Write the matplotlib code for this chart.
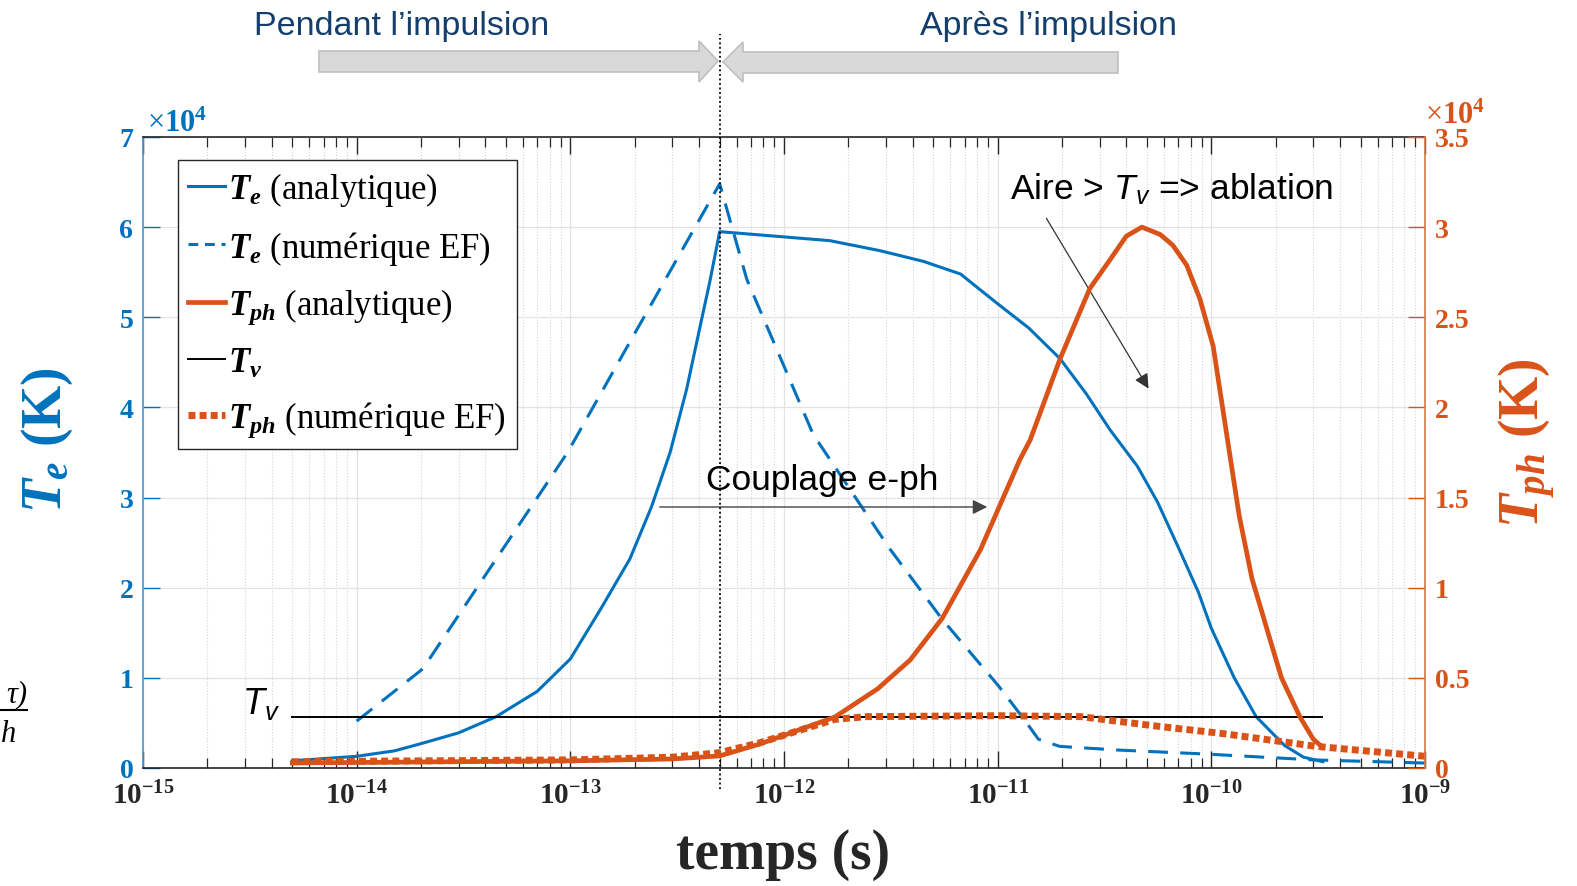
import numpy as np
import matplotlib
matplotlib.use("Agg")
import matplotlib.pyplot as plt
from matplotlib.ticker import LogLocator, NullFormatter
from matplotlib.patches import Polygon

plt.rcParams['mathtext.fontset'] = 'custom'
plt.rcParams['mathtext.rm'] = 'Liberation Serif'
plt.rcParams['mathtext.it'] = 'Liberation Serif:italic:bold'
plt.rcParams['mathtext.bf'] = 'Liberation Serif:bold'
plt.rcParams['mathtext.sf'] = 'Liberation Sans:italic'

# données (temps en s, températures en K)
t_te_ana = [5e-15, 1e-14, 1.5e-14, 2e-14, 3e-14, 4.5e-14, 7e-14, 1e-13, 1.4e-13, 1.9e-13,
            2.4e-13, 2.93e-13, 3.5e-13, 4.05e-13, 4.5e-13, 5e-13,
            1.64e-12, 2.8e-12, 4.5e-12, 6.7e-12, 1e-11, 1.4e-11, 1.96e-11, 2.6e-11,
            3.36e-11, 4.5e-11, 5.6e-11, 7e-11, 8.7e-11, 1e-10, 1.28e-10, 1.62e-10,
            2.2e-10, 2.7e-10, 3.33e-10]
te_ana = [800, 1300, 1900, 2700, 3900, 5700, 8500, 12100, 17800, 23200,
          29000, 35000, 42000, 49000, 54000, 59500,
          58500, 57400, 56200, 54800, 51500, 48800, 45400, 41500,
          37500, 33500, 29500, 24500, 19500, 15500, 10000, 5700,
          2500, 1200, 700]

t_te_num = [1e-14, 2.04e-14, 4.5e-14, 9.7e-14, 2e-13, 5e-13, 6.7e-13, 1.37e-12,
            3.13e-12, 5.5e-12, 1.01e-11, 1.33e-11, 1.55e-11, 1.95e-11, 3.6e-11,
            9.4e-11, 3e-10, 1e-9]
te_num = [5200, 11000, 23200, 35000, 48200, 64800, 54200, 37000,
          24300, 16500, 9100, 5400, 3200, 2400, 2000,
          1550, 900, 550]

t_tph_ana = [5e-15, 1e-13, 3e-13, 5e-13, 7.7e-13, 1.73e-12, 2.75e-12, 3.9e-12,
             5.5e-12, 8.3e-12, 1.27e-11, 1.42e-11, 1.96e-11, 2.7e-11, 3.36e-11, 4e-11,
             4.73e-11, 5.75e-11, 6.6e-11, 7.66e-11, 8.85e-11, 1.02e-10, 1.18e-10,
             1.35e-10, 1.55e-10, 1.88e-10, 2.13e-10, 2.6e-10, 3e-10, 3.3e-10]
tph_ana = [280, 400, 500, 670, 1330, 2830, 4400, 6000,
           8300, 12100, 17100, 18200, 22700, 26600, 28200, 29500,
           30000, 29600, 29000, 27900, 26000, 23400, 18500,
           14000, 10500, 7150, 5000, 2830, 1600, 1170]

t_tph_num = [5e-15, 1e-13, 3e-13, 5e-13, 7.7e-13, 1.73e-12, 2.45e-12, 1e-11,
             2.45e-11, 5.3e-11, 1.15e-10, 3.1e-10, 1e-9]
tph_num = [350, 450, 600, 850, 1400, 2700, 2850, 2900,
           2850, 2350, 1900, 1200, 650]

t_tv = [5e-15, 3.3e-10]
tv = [5650, 5650]

t_pulse = 5e-13

x_ticks = [1e-15, 1e-14, 1e-13, 1e-12, 1e-11, 1e-10, 1e-9]
x_labels = [r'$\mathbf{10^{-15}}$', r'$\mathbf{10^{-14}}$', r'$\mathbf{10^{-13}}$',
            r'$\mathbf{10^{-12}}$', r'$\mathbf{10^{-11}}$', r'$\mathbf{10^{-10}}$',
            r'$\mathbf{10^{-9}}$']
left_ticks = [0, 1e4, 2e4, 3e4, 4e4, 5e4, 6e4, 7e4]
left_labels = ['0', '1', '2', '3', '4', '5', '6', '7']
right_ticks = [0, 5e3, 1e4, 1.5e4, 2e4, 2.5e4, 3e4, 3.5e4]
right_labels = ['0', '0.5', '1', '1.5', '2', '2.5', '3', '3.5']

BLUE = '#0072BD'
ORANGE = '#D95319'
DARK = '#262626'
SERIF = 'Liberation Serif'
SANS = 'Liberation Sans'

W, H = 1577, 887


def px(x, y):
    return (x / W, 1 - y / H)


fig = plt.figure(figsize=(W / 100, H / 100), dpi=100)
ax = fig.add_axes([143 / W, 1 - 769 / H, (1425 - 143) / W, (769 - 138) / H])
ax2 = ax.twinx()

ax.set_xscale('log')
ax.set_xlim(1e-15, 1e-9)
ax.set_ylim(0, 7e4)
ax2.set_ylim(0, 3.5e4)

ax.grid(which='major', axis='both', color='#e3e3e3', lw=0.9)
ax.xaxis.set_minor_locator(LogLocator(base=10, subs=np.arange(2, 10), numticks=100))
ax.xaxis.set_minor_formatter(NullFormatter())
ax.grid(which='minor', axis='x', color='#d5d5d5', lw=0.8, ls=':')
ax.set_axisbelow(True)

# courbes
l1, = ax.plot(t_te_ana, te_ana, color=BLUE, lw=2.2)
l2, = ax.plot(t_te_num, te_num, color=BLUE, lw=2.2, ls=(0, (6.5, 4)))
l4, = ax.plot(t_tv, tv, color='black', lw=1.4)
l3, = ax2.plot(t_tph_ana, tph_ana, color=ORANGE, lw=3.4)
l5, = ax2.plot(t_tph_num, tph_num, color=ORANGE, lw=5, ls=(0, (1, 0.6)), dash_capstyle='butt')

# poignée de légende en tirets plus courts
l2_leg = plt.Line2D([], [], color=BLUE, lw=2.2, ls=(0, (3.2, 2.2)))

# ligne fin d'impulsion
ax.plot([t_pulse, t_pulse], [-0.033, 1.163], transform=ax.get_xaxis_transform(),
        color='black', lw=1.3, ls=(0, (1, 1.5)), clip_on=False, zorder=5)

# axes
ax.set_xticks(x_ticks, x_labels, fontsize=21, color=DARK)
ax.set_yticks(left_ticks, left_labels, fontsize=20, fontweight='bold',
              fontfamily=SERIF, color=BLUE)
ax2.set_yticks(right_ticks, right_labels, fontsize=20, fontweight='bold',
               fontfamily=SERIF, color=ORANGE)
ax.tick_params(axis='x', which='major', direction='in', length=12, width=1,
               color=DARK, top=True, pad=9)
ax.tick_params(axis='x', which='minor', direction='in', length=7, width=0.9,
               color=DARK, top=True)
ax.tick_params(axis='y', direction='in', length=12, width=1, color=BLUE, pad=7)
ax2.tick_params(axis='y', direction='in', length=12, width=1, color=ORANGE, pad=7)

for s in ['top', 'bottom']:
    ax.spines[s].set_color(DARK)
    ax2.spines[s].set_visible(False)
ax.spines['left'].set_color('#4f97cf')
ax.spines['right'].set_visible(False)
ax2.spines['left'].set_visible(False)
ax2.spines['right'].set_color('#df7346')
for s in ax.spines.values():
    s.set_linewidth(1.2)
ax2.spines['right'].set_linewidth(1.2)

fig.text(147 / W, 1 - 132 / H, r'$\times\mathbf{10^{4}}$', fontsize=22, color=BLUE,
         ha='left', va='baseline')
fig.text(1425 / W, 1 - 124 / H, r'$\times\mathbf{10^{4}}$', fontsize=22, color=ORANGE,
         ha='left', va='baseline')

fig.text(*px(47, 440), r'$T_e$ (K)', rotation=90, fontsize=40, fontweight='bold',
         fontfamily=SERIF, color=BLUE, ha='center', va='center')
fig.text(*px(1527, 443), r'$T_{ph}$ (K)', rotation=90, fontsize=40, fontweight='bold',
         fontfamily=SERIF, color=ORANGE, ha='center', va='center')
fig.text(*px(783, 855), 'temps (s)', fontsize=40, fontweight='bold',
         fontfamily=SERIF, color=DARK, ha='center', va='center')

# légende
leg = ax2.legend([l1, l2_leg, l3, l4, l5],
                 [r'$T_e$ (analytique)', r'$T_e$ (numérique EF)', r'$T_{ph}$ (analytique)',
                  r'$T_v$', r'$T_{ph}$ (numérique EF)'],
                 loc='upper left', bbox_to_anchor=px(178, 161), bbox_transform=fig.transFigure,
                 borderaxespad=0, prop={'family': SERIF, 'size': 25},
                 handlelength=1.05, handletextpad=0.1, labelspacing=0.58,
                 borderpad=0.3, fancybox=False, framealpha=1, edgecolor=DARK)
leg.get_frame().set_linewidth(1.0)

# annotations
fig.text(*px(822, 481), 'Couplage e-ph', fontsize=25.5, fontfamily=SANS,
         color='black', ha='center', va='center')
ax.annotate('', xy=px(990, 508), xytext=px(657, 508), xycoords='figure fraction',
            textcoords='figure fraction',
            arrowprops=dict(arrowstyle='-|>', color='#444444', lw=1.0, mutation_scale=22))
fig.text(*px(1172, 189), r'Aire > $\mathsf{T_v}$ => ablation', fontsize=25.5,
         fontfamily=SANS, color='black', ha='center', va='center')
ax.annotate('', xy=px(1150, 392), xytext=px(1045, 217), xycoords='figure fraction',
            textcoords='figure fraction',
            arrowprops=dict(arrowstyle='-|>', color='#333333', lw=0.9, mutation_scale=22))
fig.text(242 / W, 1 - 714 / H, r'$\mathsf{T_v}$', fontsize=26, fontfamily=SANS,
         ha='left', va='baseline')

# flèches du haut
NAVY = '#143F6C'
fig.text(*px(402, 27), 'Pendant l’impulsion', fontsize=24.5, fontfamily=SANS,
         color=NAVY, ha='center', va='center')
fig.text(*px(1048, 27), 'Après l’impulsion', fontsize=24.5, fontfamily=SANS,
         color=NAVY, ha='center', va='center')
left_arrow = [(319, 52), (699, 52), (699, 42), (718, 62), (699, 83), (699, 73), (319, 73)]
right_arrow = [(1118, 53), (743, 53), (743, 43), (723, 63), (743, 83), (743, 74), (1118, 74)]
for shape in (left_arrow, right_arrow):
    fig.patches.append(Polygon([px(x, y) for x, y in shape], closed=True,
                               transform=fig.transFigure, facecolor='#d9d9d9',
                               edgecolor='#bfbfbf', lw=1.2))

# bout d'équation coupé à gauche
fig.text(27 / W, 1 - 702 / H, 'τ)', fontsize=22, fontfamily=SERIF, style='italic',
         ha='right', va='baseline')
fig.add_artist(plt.Line2D([0, 27 / W], [1 - 711 / H, 1 - 711 / H], color='black', lw=1.5))
fig.text(1 / W, 1 - 742 / H, 'h', fontsize=22, fontfamily=SERIF, style='italic',
         ha='left', va='baseline')

fig.savefig('out.png', dpi=100)
